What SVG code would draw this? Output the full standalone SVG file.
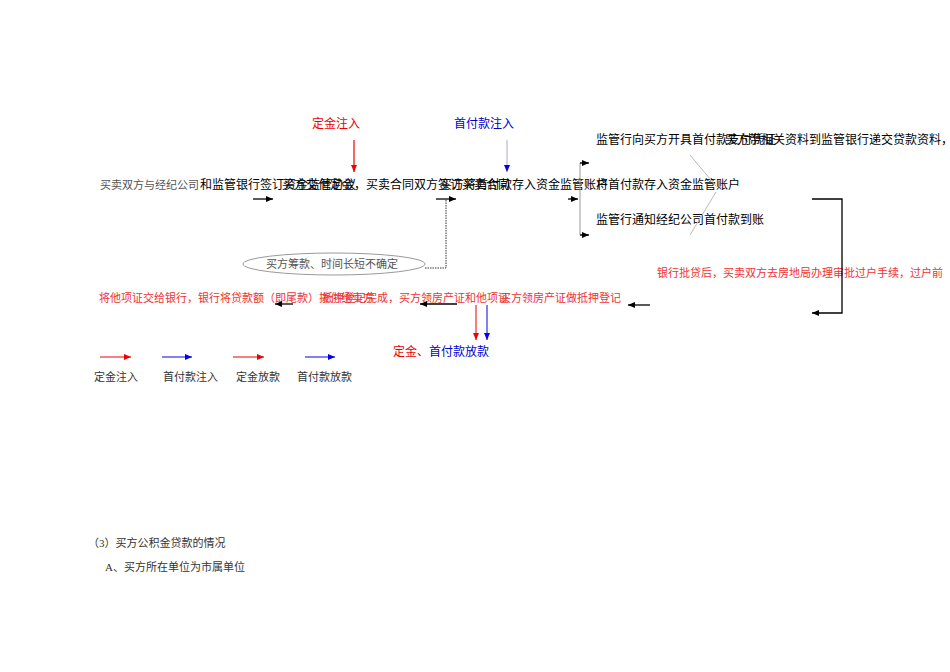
<svg xmlns="http://www.w3.org/2000/svg" width="950" height="672" viewBox="0 0 950 672">
<style>
.s{font-family:"Liberation Sans","Noto Sans CJK SC",sans-serif;font-size:12px}
.r{font-family:"Liberation Serif","Noto Sans CJK SC",serif;font-size:11px}
.k{stroke:#000;stroke-width:1.3;fill:none}
</style>
<defs>
<marker id="ak" markerWidth="8" markerHeight="8" refX="7" refY="4" orient="auto" markerUnits="userSpaceOnUse"><path d="M0,1 L7,4 L0,7z" fill="#000"/></marker>
<marker id="ar" markerWidth="8" markerHeight="8" refX="7" refY="4" orient="auto" markerUnits="userSpaceOnUse"><path d="M0,1 L7,4 L0,7z" fill="#e00"/></marker>
<marker id="ab" markerWidth="8" markerHeight="8" refX="7" refY="4" orient="auto" markerUnits="userSpaceOnUse"><path d="M0,1 L7,4 L0,7z" fill="#00e"/></marker>
</defs>
<rect width="950" height="672" fill="#fff"/>
<g id="n1">
<text class="r" x="100" y="189" fill="#555">买卖双方与经纪公司</text>
<text class="s" x="200" y="189">和监管银行签订资金监管协议</text>
<text class="s" x="282" y="189">买方交付定金，买卖合同双方签订买卖合同</text>
<text class="s" x="440" y="189">买方将首付款存入资金监管账户</text>
<text class="s" x="596" y="189">将首付款存入资金监管账户</text>
</g>
<g id="n2"><text class="s" x="312" y="128" fill="#e00">定金注入</text></g>
<g id="n3"><text class="s" x="454" y="128" fill="#00c">首付款注入</text></g>
<g id="n4">
<text class="s" x="596" y="144">监管行向买方开具首付款支付凭证</text>
<text class="s" x="725" y="144">买方带相关资料到监管银行递交贷款资料，签</text>
</g>
<g id="n5"><text class="s" x="596" y="224">监管行通知经纪公司首付款到账</text></g>
<g id="n6"><ellipse cx="334" cy="264" rx="91" ry="11" fill="none" stroke="#999"/><text class="r" x="266" y="268" fill="#555">买方筹款、时间长短不确定</text></g>
<g id="n7"><text class="r" x="657" y="277" fill="#e33">银行批贷后，买卖双方去房地局办理审批过户手续，过户前</text></g>
<g id="n8">
<text class="r" x="99" y="302" fill="#e33">将他项证交给银行，银行将贷款额（即尾款）拨付给卖方</text>
<text class="r" x="322" y="302" fill="#e33">抵押登记完成，买方领房产证和他项证</text>
<text class="r" x="500" y="302" fill="#e33">买方领房产证做抵押登记</text>
</g>
<g id="n9"><text class="s" x="393" y="356" fill="#e00">定金、<tspan fill="#00c">首付款放款</tspan></text></g>
<g id="legend">
<line x1="100" y1="357" x2="131" y2="357" stroke="#e00" marker-end="url(#ar)"/>
<line x1="162" y1="357" x2="192" y2="357" stroke="#00e" marker-end="url(#ab)"/>
<line x1="233" y1="357" x2="264" y2="357" stroke="#e00" marker-end="url(#ar)"/>
<line x1="305" y1="357" x2="335" y2="357" stroke="#00e" marker-end="url(#ab)"/>
<text class="r" x="94" y="381" fill="#333">定金注入</text>
<text class="r" x="163" y="381" fill="#333">首付款注入</text>
<text class="r" x="236" y="381" fill="#333">定金放款</text>
<text class="r" x="297" y="381" fill="#333">首付款放款</text>
</g>
<g id="text">
<text class="r" x="88" y="547" fill="#333">（3）买方公积金贷款的情况</text>
<text class="r" x="105" y="571" fill="#333">A、买方所在单位为市属单位</text>
</g>
<g id="connectors">
<line x1="354" y1="140" x2="354" y2="172" stroke="#e00" stroke-width="1.2" marker-end="url(#ar)"/>
<line x1="507" y1="140" x2="507" y2="172" stroke="#aac" stroke-width="1" marker-end="url(#ab)"/>
<line class="k" x1="253" y1="199" x2="273" y2="199" marker-end="url(#ak)"/>
<line class="k" x1="436" y1="199" x2="456" y2="199" marker-end="url(#ak)"/>
<line class="k" x1="568" y1="199" x2="578" y2="199" marker-end="url(#ak)"/>
<path d="M588,163 H580 V235 H588" fill="none" stroke="#999"/>
<line class="k" x1="580" y1="163" x2="589" y2="163" marker-end="url(#ak)"/>
<line class="k" x1="580" y1="235" x2="589" y2="235" marker-end="url(#ak)"/>
<line x1="690" y1="155" x2="716" y2="186" stroke="#bbb"/>
<line x1="690" y1="235" x2="716" y2="192" stroke="#bbb"/>
<path d="M425,268 H446 V200" fill="none" stroke="#333" stroke-dasharray="1.5,1"/>
<path d="M812,199 H842 V313 H812" class="k" marker-end="url(#ak)"/>
<line class="k" x1="650" y1="305" x2="628" y2="305" marker-end="url(#ak)"/>
<line class="k" x1="457" y1="304" x2="420" y2="304" marker-end="url(#ak)"/>
<line class="k" x1="293" y1="304" x2="275" y2="304" marker-end="url(#ak)"/>
<line x1="476" y1="305" x2="476" y2="340" stroke="#e00" marker-end="url(#ar)"/>
<line x1="487" y1="305" x2="487" y2="340" stroke="#00e" marker-end="url(#ab)"/>
</g>
</svg>
